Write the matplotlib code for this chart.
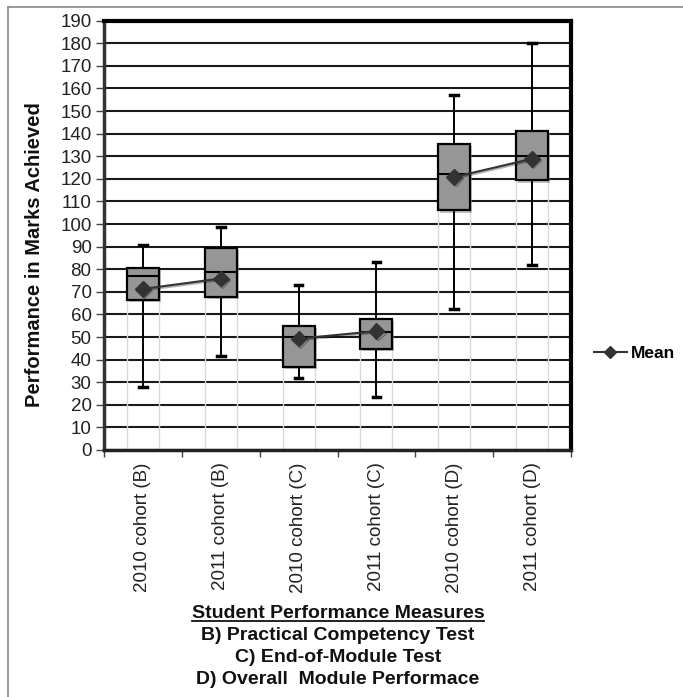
import matplotlib
matplotlib.use("Agg")
import matplotlib.pyplot as plt
import matplotlib.patheffects as pe
from matplotlib.lines import Line2D

plt.rcParams['font.family'] = ['Liberation Sans', 'DejaVu Sans']

categories = ["2010 cohort (B)", "2011 cohort (B)", "2010 cohort (C)",
              "2011 cohort (C)", "2010 cohort (D)", "2011 cohort (D)"]
whisker_low = [28, 41.5, 31.7, 23.6, 62.3, 82]
q1 = [66.3, 67.8, 36.8, 44.8, 106, 119.3]
median = [77, 79, 49.8, 52.1, 122, 129.9]
q3 = [80.7, 89.6, 54.8, 58, 135.5, 141]
whisker_high = [90.6, 98.7, 73.2, 83.1, 156.9, 180.3]
means = [71.3, 75.9, 49.3, 52.6, 120.8, 128.9]
# means are joined only within each measure (B, C, D)
mean_groups = [[0, 1], [2, 3], [4, 5]]

yticks = list(range(0, 191, 10))
xtitle_lines = ["Student Performance Measures", "B) Practical Competency Test",
                "C) End-of-Module Test", "D) Overall  Module Performace"]

fig = plt.figure(figsize=(6.83, 6.97), dpi=100)
ax = fig.add_axes([104/683, 1-450/697, 467/683, 429.3/697])

x = list(range(len(categories)))
bw = 0.41

# faint "invisible bar" outlines below boxes
ax.bar(x, q1, width=bw, fill=False, edgecolor='#d9d9d9', linewidth=1.0, zorder=1)

stats = []
for i in x:
    stats.append(dict(med=median[i], q1=q1[i], q3=q3[i],
                      whislo=whisker_low[i], whishi=whisker_high[i], fliers=[]))

shadow = [pe.SimplePatchShadow(offset=(1.5, -1.5), shadow_rgbFace='#888888', alpha=0.5), pe.Normal()]
bp = ax.bxp(stats, positions=x, widths=bw, patch_artist=True, showfliers=False,
            capwidths=0.1,
            boxprops=dict(facecolor='#969696', edgecolor='black', linewidth=1.6),
            medianprops=dict(color='black', linewidth=1.5),
            whiskerprops=dict(color='black', linewidth=1.4),
            capprops=dict(color='black', linewidth=2.5),
            zorder=3)
for b in bp['boxes']:
    b.set_path_effects(shadow)

for g in mean_groups:
    ax.plot([x[i] for i in g], [means[i] for i in g], color='#333333', linewidth=1.5,
            marker='D', markersize=8, markerfacecolor='#333333', markeredgecolor='#333333',
            zorder=5, path_effects=[pe.SimpleLineShadow(offset=(1, -1), alpha=0.3), pe.Normal()])

ax.set_ylim(0, 190)
ax.set_xlim(-0.5, len(categories) - 0.5)
ax.set_yticks(yticks)
ax.set_yticklabels([str(t) for t in yticks], fontsize=13.5, color='#222222')
ax.yaxis.grid(True, color='#1a1a1a', linewidth=1.5)
ax.set_axisbelow(True)

ax.set_xticks([i - 0.5 for i in range(len(categories) + 1)])
ax.set_xticklabels([''] * (len(categories) + 1))
ax.set_xticks(x, minor=True)
ax.set_xticklabels(categories, minor=True, rotation=90, fontsize=13.5, color='#222222')
ax.tick_params(axis='x', which='minor', length=0, pad=9)
ax.tick_params(axis='x', which='major', length=5, width=1, color='#444444', direction='out')
ax.tick_params(axis='y', length=6, width=1, color='#444444', direction='out', pad=3)

ax.spines['left'].set_linewidth(2.5)
ax.spines['left'].set_color('#333333')
ax.spines['bottom'].set_linewidth(2.5)
ax.spines['bottom'].set_color('#222222')
ax.spines['top'].set_linewidth(3)
ax.spines['top'].set_color('black')
ax.spines['right'].set_linewidth(3)
ax.spines['right'].set_color('black')

fig.text(35/683, 1-254.5/697, "Performance in Marks Achieved", rotation=90,
         fontsize=14.5, fontweight='bold', ha='center', va='center', color='#111111')

ys = [613, 636, 658, 680]
for i, (t, yy) in enumerate(zip(xtitle_lines, ys)):
    txt = fig.text(338/683, 1-yy/697, t, fontsize=14, fontweight='bold',
                   ha='center', va='center', color='#111111')
    if i == 0:
        fig.canvas.draw()
        bb = txt.get_window_extent()
        fig.add_artist(Line2D([bb.x0/683, bb.x1/683], [(bb.y0 + 1)/697, (bb.y0 + 1)/697],
                              color='#111111', linewidth=1.3, transform=fig.transFigure))

handle = Line2D([], [], color='#333333', linewidth=1.5, marker='D', markersize=6,
                markerfacecolor='#333333')
fig.legend([handle], ["Mean"], loc='center left', bbox_to_anchor=(594/683, 1-353/697),
           frameon=False, handlelength=1.9, handletextpad=0.2, borderpad=0,
           borderaxespad=0, prop=dict(size=12.5, weight='bold'))

# chart area border
fig.add_artist(Line2D([7.5/683, 1], [1-6.5/697, 1-6.5/697], color='#888888',
                      linewidth=1.2, transform=fig.transFigure))
fig.add_artist(Line2D([7.5/683, 7.5/683], [0, 1-6.5/697], color='#888888',
                      linewidth=1.2, transform=fig.transFigure))

fig.savefig("out.png", dpi=100)
